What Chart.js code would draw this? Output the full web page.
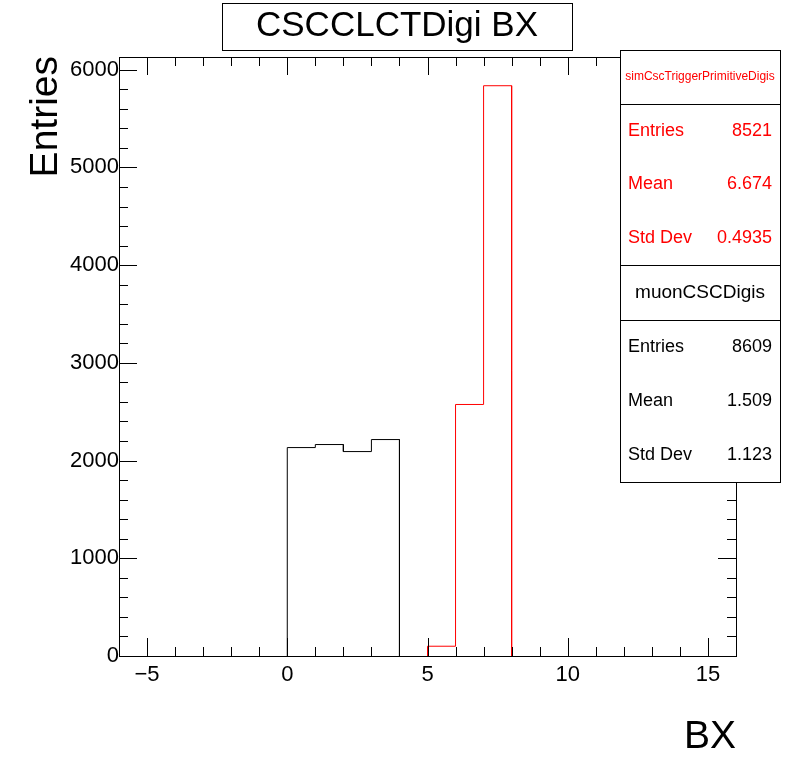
<!DOCTYPE html>
<html><head><meta charset="utf-8">
<script src="https://cdn.jsdelivr.net/npm/chart.js@4"></script>
<style>html,body{margin:0;padding:0;background:#fff}#w{width:796px;height:772px}</style>
</head><body><div id="w"><canvas id="c" width="796" height="772"></canvas></div>
<script>
const binEdgesLow = [-6,-5,-4,-3,-2,-1,0,1,2,3,4,5,6,7,8,9,10,11,12,13,14,15];
const muonCSCDigis = [0,0,0,0,0,0,2133,2164,2092,2215,0,0,0,0,0,0,0,0,0,0,0,0];
const simCscTPDigis = [0,0,0,0,0,0,0,0,0,0,0,100,2574,5836,0,0,0,0,0,0,0,0];
const xMajorTicks = [-5,0,5,10,15];
const yMajorTicks = [0,1000,2000,3000,4000,5000,6000];
const statsRed = [["Entries","8521"],["Mean","6.674"],["Std Dev","0.4935"]];
const statsBlack = [["Entries","8609"],["Mean","1.509"],["Std Dev","1.123"]];

function outline(vals, first, last){
  const pts=[];
  for(let i=first;i<=last;i++){
    const lo=binEdgesLow[i], hi=lo+1;
    pts.push({x:lo,y:vals[i]}); pts.push({x:hi,y:vals[i]});
  }
  pts.unshift({x:binEdgesLow[first],y:0}); pts.push({x:binEdgesLow[last]+1,y:0});
  return pts;
}
const F='"Liberation Sans", Arial, sans-serif';
const deco={id:'deco',afterDraw(ch){
  const c=ch.ctx,a=ch.chartArea,xs=ch.scales.x,ys=ch.scales.y;
  c.save();c.strokeStyle='#000';c.lineWidth=1;
  c.strokeRect(a.left+0.5,a.top+0.5,a.right-a.left,a.bottom-a.top);
  c.beginPath();
  for(let v=-6;v<=16;v++){const p=Math.round(xs.getPixelForValue(v))+0.5;const L=(v%5===0)?18:9;
    c.moveTo(p,a.bottom);c.lineTo(p,a.bottom-L);c.moveTo(p,a.top);c.lineTo(p,a.top+L);}
  for(let v=0;v<=6100;v+=200){const p=Math.round(ys.getPixelForValue(v))+0.5;const L=(v%1000===0)?18:9;
    c.moveTo(a.left,p);c.lineTo(a.left+L,p);c.moveTo(a.right,p);c.lineTo(a.right-L,p);}
  c.stroke();
  c.fillStyle='#000';c.font='22px '+F;c.textAlign='center';c.textBaseline='top';
  xMajorTicks.forEach(v=>c.fillText(String(v).replace('-','\u2212'),xs.getPixelForValue(v),664));
  c.textAlign='right';c.textBaseline='middle';
  yMajorTicks.forEach(v=>c.fillText(String(v),a.left,ys.getPixelForValue(v)));
  c.font='39px '+F;c.textAlign='right';c.textBaseline='alphabetic';c.fillText('BX',736,748);
  c.save();c.translate(57,56);c.rotate(-Math.PI/2);c.textAlign='right';c.fillText('Entries',0,0);c.restore();
  c.fillStyle='#fff';c.fillRect(222,3,350,47);c.strokeRect(222.5,3.5,350,47);
  c.fillStyle='#000';c.font='35px '+F;c.textAlign='center';c.textBaseline='middle';c.fillText('CSCCLCTDigi BX',397,26);
  function box(y0,y1,yd,head,hf,rows,col){
    c.fillStyle='#fff';c.fillRect(620,y0,160,y1-y0);c.strokeStyle='#000';c.strokeRect(620.5,y0+0.5,160,y1-y0);
    c.beginPath();c.moveTo(620,yd+0.5);c.lineTo(780,yd+0.5);c.stroke();
    c.fillStyle=col;c.font=hf+'px '+F;c.textAlign='center';c.fillText(head,700,(y0+yd)/2);
    const h=(y1-yd)/rows.length;c.font='18px '+F;
    rows.forEach((r,i)=>{const y=yd+h*(i+0.5);c.textAlign='left';c.fillText(r[0],628,y);c.textAlign='right';c.fillText(r[1],772,y);});
  }
  box(50,265,104,'simCscTriggerPrimitiveDigis',12,statsRed,'#f00');
  box(265,482,320,'muonCSCDigis',19,statsBlack,'#000');
  c.restore();
}};
new Chart(document.getElementById('c'),{type:'line',
 data:{datasets:[
  {data:outline(muonCSCDigis,6,9),borderColor:'#000',borderWidth:1,pointRadius:0,fill:false},
  {data:outline(simCscTPDigis,11,13),borderColor:'#f00',borderWidth:1,pointRadius:0,fill:false}]},
 options:{responsive:false,animation:false,
  layout:{padding:{left:119,right:60,top:57,bottom:116}},
  plugins:{legend:{display:false},tooltip:{enabled:false}},
  scales:{x:{type:'linear',min:-6,max:16,display:false},y:{min:0,max:6130,display:false}}},
 plugins:[deco]});
</script></body></html>
